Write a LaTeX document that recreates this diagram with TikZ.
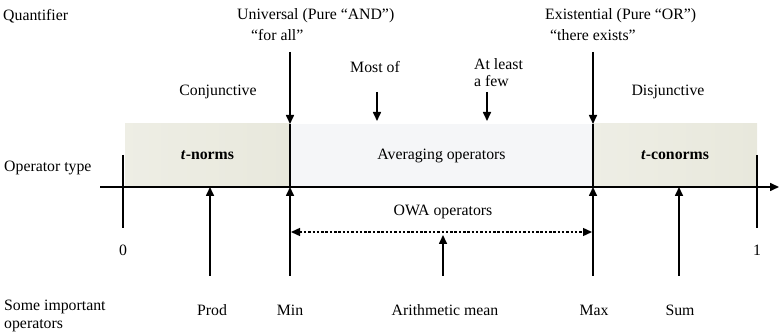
\documentclass[tikz,border=0pt]{standalone}
\usepackage{fontspec}
\setmainfont{Liberation Serif}
\usetikzlibrary{arrows.meta}
\definecolor{normfill}{HTML}{E8E8DC}
\definecolor{avgfill}{HTML}{F5F6F8}
\begin{document}
\begin{tikzpicture}[x=1pt,y=-1pt,font=\fontsize{15.8}{17.5}\selectfont,
  arr/.style={line width=1.6pt,-{Triangle[length=9pt,width=8pt]}},
  darr/.style={line width=1.4pt,dash pattern=on 2.5pt off 1.8pt,{Triangle[length=9pt,width=8pt]}-{Triangle[length=9pt,width=8pt]}},
  ticky/.style={line width=1.6pt},
  txt/.style={inner sep=0pt,anchor=center},
  ltxt/.style={inner sep=0pt,anchor=west},
  normbox/.style={inner sep=0pt,minimum height=63pt,left color=normfill!75!white,right color=normfill,font=\fontsize{15.8}{17.5}\selectfont\bfseries},
  avgbox/.style={inner sep=0pt,minimum height=63pt,fill=avgfill}]
\useasboundingbox (0,0) rectangle (779,336);
% boxes
\node[normbox,minimum width=165pt] (tn) at (207.5,155.5) {\textit{t}-norms};
\node[avgbox,minimum width=303pt] (avg) at (441.5,155.5) {\mdseries Averaging operators};
\node[normbox,minimum width=164pt] (tc) at (675,155.5) {\textit{t}-conorms};
% axis
\coordinate (ax0) at (100,187);
\coordinate (ax1) at (779,187);
\draw[arr] (ax0) -- (ax1);
% ticks 0 and 1
\coordinate (z0) at (123,155); \coordinate (z1) at (123,228);
\coordinate (o0) at (757,155); \coordinate (o1) at (757,228);
\draw[ticky] (z0) -- (z1);
\draw[ticky] (o0) -- (o1);
% min and max lines
\coordinate (minT) at (290,52); \coordinate (minM) at (290,124); \coordinate (minA) at (290,187); \coordinate (minB) at (290,276);
\coordinate (maxT) at (593,52); \coordinate (maxM) at (593,124); \coordinate (maxA) at (593,187); \coordinate (maxB) at (593,276);
\draw[arr] (minT) -- (minM);
\draw[ticky] (minM) -- (minA);
\draw[arr] (minB) -- (minA);
\draw[arr] (maxT) -- (maxM);
\draw[ticky] (maxM) -- (maxA);
\draw[arr] (maxB) -- (maxA);
% quantifier arrows
\coordinate (mostT) at (377,92); \coordinate (mostB) at (377,121);
\coordinate (fewT) at (487,92); \coordinate (fewB) at (487,121);
\draw[arr] (mostT) -- (mostB);
\draw[arr] (fewT) -- (fewB);
% operator arrows
\coordinate (prodB) at (210,276); \coordinate (prodA) at (210,187);
\coordinate (sumB) at (679,276); \coordinate (sumA) at (679,187);
\coordinate (amB) at (443,276); \coordinate (amA) at (443,235);
\draw[arr] (prodB) -- (prodA);
\draw[arr] (sumB) -- (sumA);
\draw[arr] (amB) -- (amA);
% OWA range
\coordinate (owaL) at (291,232); \coordinate (owaR) at (592,232);
\draw[darr] (owaL) -- (owaR);
% texts
\node[ltxt] (quant) at (3,16) {Quantifier};
\node[ltxt] (univ) at (237,16) {Universal (Pure “AND”)};
\node[ltxt] (forall) at (251,35) {“for all”};
\node[ltxt] (exist) at (545,16) {Existential (Pure “OR”)};
\node[ltxt] (there) at (550,35) {“there exists”};
\node[txt] (most) at (375,67) {Most of};
\node[ltxt,align=left,anchor=north west] (few) at (474,58) {At least\\a few};
\node[txt] (conj) at (218,92) {Conjunctive};
\node[txt] (disj) at (668,92) {Disjunctive};
\node[ltxt] (optype) at (4,168) {Operator type};
\node[txt] (owa) at (443,212) {OWA operators};
\node[txt] (zero) at (123,250) {0};
\node[txt] (one) at (757,250) {1};
\node[ltxt,align=left,anchor=north west] (some) at (4,300) {Some important\\operators};
\node[txt] (prod) at (212,310) {Prod};
\node[txt] (min) at (290,310) {Min};
\node[txt] (am) at (445,310) {Arithmetic mean};
\node[txt] (max) at (594,310) {Max};
\node[txt] (sum) at (680,310) {Sum};
\end{tikzpicture}
\end{document}
